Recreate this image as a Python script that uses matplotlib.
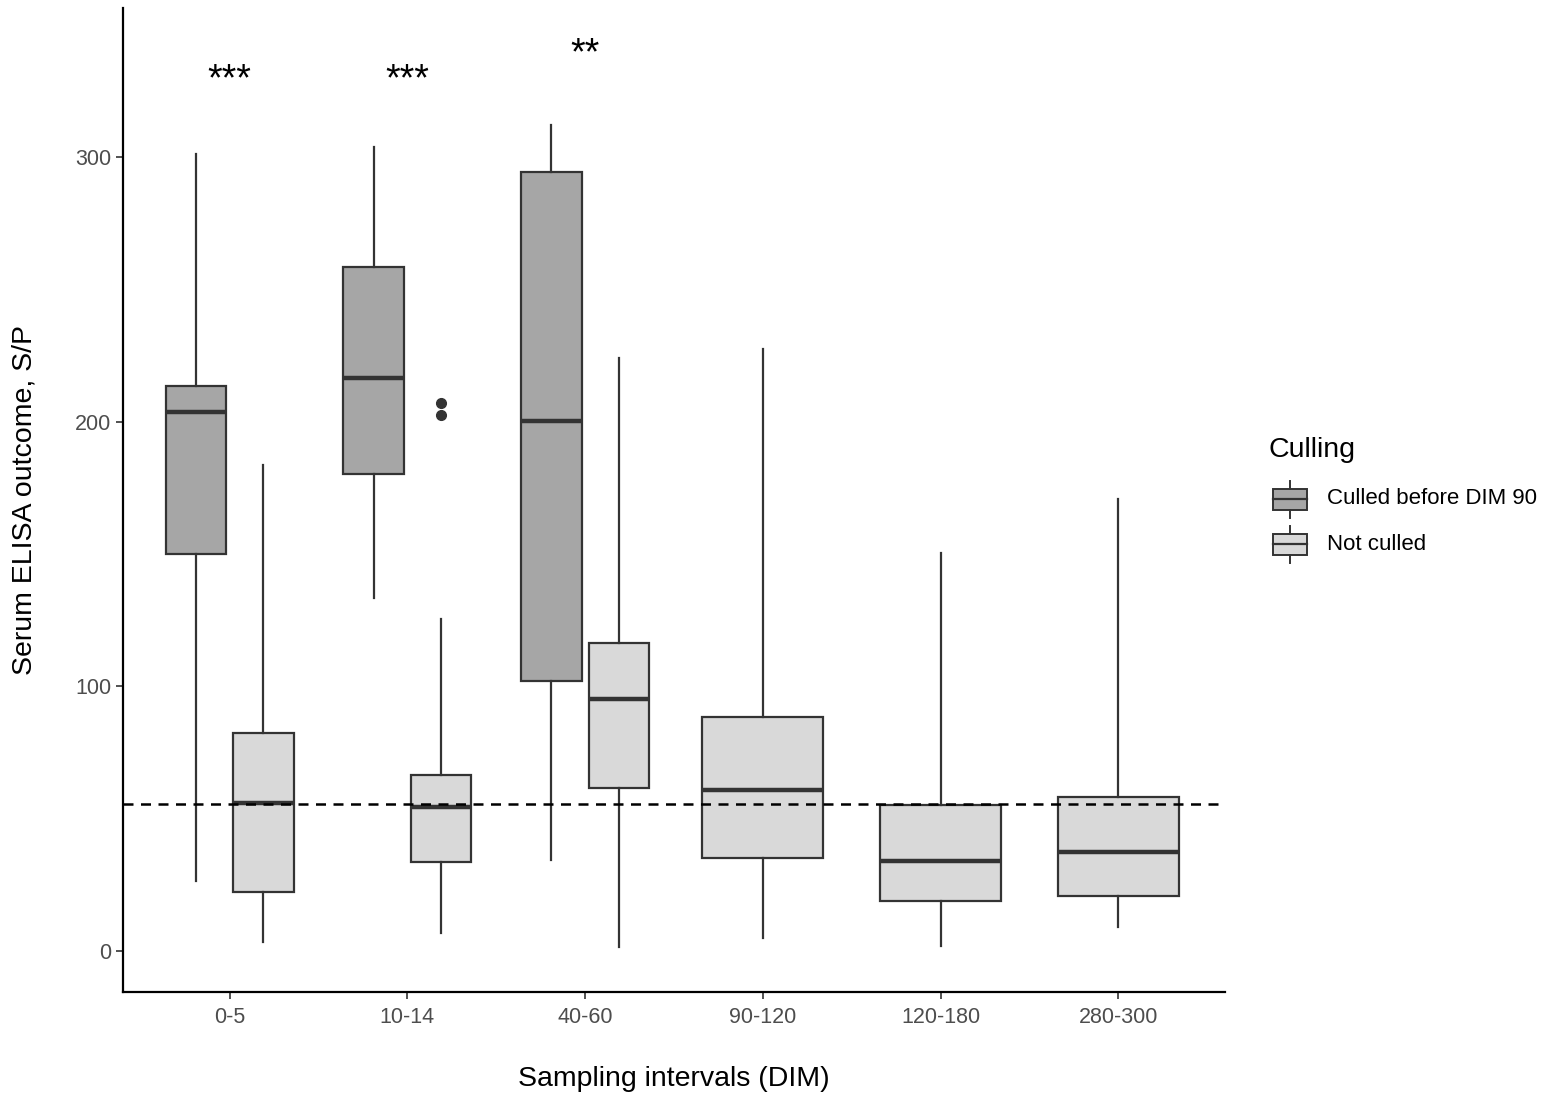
import matplotlib.pyplot as plt
from matplotlib.patches import Rectangle

plt.rcParams["font.family"] = ["Liberation Sans", "DejaVu Sans"]

intervals = ["0-5", "10-14", "40-60", "90-120", "120-180", "280-300"]

# culled before DIM 90 (only first three intervals)
culled_low = [26.5, 133.5, 34.4]
culled_q1 = [150.1, 180.3, 102.1]
culled_med = [203.8, 216.6, 200.4]
culled_q3 = [213.6, 258.6, 294.5]
culled_high = [301.3, 304.0, 312.3]

# not culled (all intervals)
notc_low = [3.4, 6.8, 1.5, 4.9, 1.9, 9.0]
notc_q1 = [22.3, 33.6, 61.6, 35.2, 18.9, 20.8]
notc_med = [56.0, 54.4, 95.3, 60.9, 34.0, 37.4]
notc_q3 = [82.4, 66.5, 116.4, 88.5, 55.2, 58.2]
notc_high = [183.7, 125.5, 224.2, 227.6, 150.5, 170.9]
notc_fliers = [[], [207.2, 202.6], [], [], [], []]

cutoff = 55.6
stars = ["***", "***", "**"]
star_y = [329, 329, 339]

c_culled = "#A6A6A6"
c_notc = "#D9D9D9"
edge = "#333333"

fig = plt.figure(figsize=(15.47, 10.99), dpi=100)
ax = fig.add_axes([0.0795, 0.0974, 0.7124, 0.8953])

def stats(low, q1, med, q3, high, fl):
    return [dict(whislo=a, q1=b, med=c, q3=d, whishi=e, fliers=f)
            for a, b, c, d, e, f in zip(low, q1, med, q3, high, fl)]

n_c = len(culled_med)
pos_c = [i + 1 - 0.19 for i in range(n_c)]
pos_n = [i + 1 + 0.19 if i < n_c else i + 1 for i in range(len(intervals))]
wid_n = [0.34 if i < n_c else 0.68 for i in range(len(intervals))]

def draw(st, pos, widths, color):
    ax.bxp(st, positions=pos, widths=widths, patch_artist=True, showcaps=False,
           boxprops=dict(facecolor=color, edgecolor=edge, linewidth=1.6),
           whiskerprops=dict(color=edge, linewidth=1.6),
           medianprops=dict(color=edge, linewidth=3.2),
           flierprops=dict(marker="o", markerfacecolor=edge, markeredgecolor=edge, markersize=7))

draw(stats(culled_low, culled_q1, culled_med, culled_q3, culled_high, [[]] * n_c),
     pos_c, 0.34, c_culled)
draw(stats(notc_low, notc_q1, notc_med, notc_q3, notc_high, notc_fliers),
     pos_n, wid_n, c_notc)

ax.axhline(cutoff, color="black", linestyle=(0, (4, 3)), linewidth=1.8, zorder=5)

for i, (s, y) in enumerate(zip(stars, star_y)):
    ax.text(i + 1, y, s, ha="center", va="center", fontsize=27)

ax.set_xlim(0.4, 6.6)
ax.set_ylim(-15.5, 356.5)
ax.set_xticks(range(1, len(intervals) + 1))
ax.set_xticklabels(intervals)
ax.set_yticks([0, 100, 200, 300])
ax.tick_params(labelsize=15.5, labelcolor="#4D4D4D", color="#333333", length=5, width=1.2)
ax.tick_params(axis="x", pad=6)
for side in ["top", "right"]:
    ax.spines[side].set_visible(False)
for side in ["left", "bottom"]:
    ax.spines[side].set_linewidth(1.6)
ax.set_xlabel("Sampling intervals (DIM)", fontsize=20.5, labelpad=27)
ax.set_ylabel("Serum ELISA outcome, S/P", fontsize=20.5, labelpad=27)

# legend drawn by hand (ggplot style keys)
fig.text(1268 / 1547, 1 - 450 / 1099, "Culling", fontsize=20.5, va="center", ha="left")
labels = ["Culled before DIM 90", "Not culled"]
for k, (lab, col) in enumerate(zip(labels, [c_culled, c_notc])):
    cy = 1 - (499 + 45 * k) / 1099
    x0, x1 = 1273 / 1547, 1307 / 1547
    h = 21 / 1099
    fig.add_artist(Rectangle((x0, cy - h / 2), x1 - x0, h, transform=fig.transFigure,
                             facecolor=col, edgecolor=edge, linewidth=1.4))
    fig.add_artist(plt.Line2D([x0, x1], [cy, cy], transform=fig.transFigure, color=edge, linewidth=1.6))
    xm = (x0 + x1) / 2
    fig.add_artist(plt.Line2D([xm, xm], [cy + h / 2, cy + h / 2 + 8 / 1099], transform=fig.transFigure, color=edge, linewidth=1.4))
    fig.add_artist(plt.Line2D([xm, xm], [cy - h / 2, cy - h / 2 - 8 / 1099], transform=fig.transFigure, color=edge, linewidth=1.4))
    fig.text(1327 / 1547, cy, lab, fontsize=16, va="center", ha="left")

fig.savefig("out.png", dpi=100)
